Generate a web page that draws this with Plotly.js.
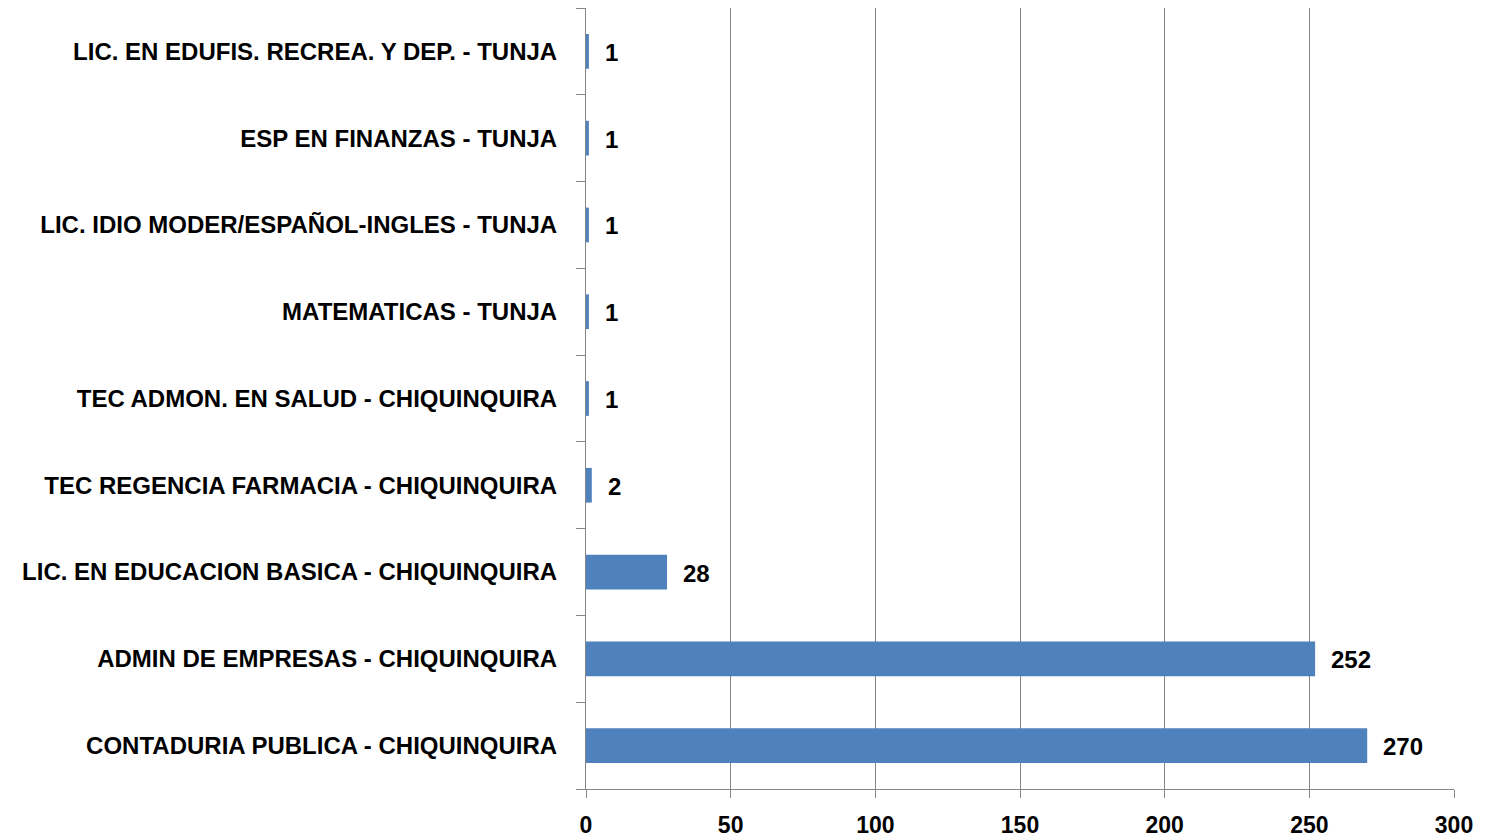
<!DOCTYPE html>
<html>
<head>
<meta charset="utf-8">
<script src="https://cdn.plot.ly/plotly-3.0.1.min.js"></script>
<style>html,body{margin:0;padding:0;background:#fff;}#chart{width:1487px;height:840px;}</style>
</head>
<body>
<div id="chart"></div>
<script>
const categories = [
  "CONTADURIA PUBLICA - CHIQUINQUIRA",
  "ADMIN DE EMPRESAS - CHIQUINQUIRA",
  "LIC. EN EDUCACION BASICA - CHIQUINQUIRA",
  "TEC REGENCIA FARMACIA - CHIQUINQUIRA",
  "TEC ADMON. EN SALUD - CHIQUINQUIRA",
  "MATEMATICAS - TUNJA",
  "LIC. IDIO MODER/ESPAÑOL-INGLES - TUNJA",
  "ESP EN FINANZAS - TUNJA",
  "LIC. EN EDUFIS. RECREA. Y DEP. - TUNJA"
];
const values = [270, 252, 28, 2, 1, 1, 1, 1, 1];
const xTicks = [0, 50, 100, 150, 200, 250, 300];

const fontFam = "'Liberation Sans', Arial, sans-serif";
const gray = "#868686";

const trace = {
  type: "bar",
  orientation: "h",
  x: values,
  y: categories,
  marker: {color: "#4f81bd"},
  width: 0.4,
  hoverinfo: "x+y"
};

const annotations = values.map((v, i) => ({
  x: v, y: categories[i], xref: "x", yref: "y",
  text: String(v), showarrow: false, xanchor: "left", yanchor: "middle",
  xshift: 14, yshift: -1,
  font: {family: fontFam, size: 24, color: "#000", weight: "bold"}
}));

const layout = {
  width: 1487, height: 840,
  margin: {l: 586, r: 33, t: 8, b: 51, pad: 0},
  paper_bgcolor: "#fff", plot_bgcolor: "#fff",
  showlegend: false,
  bargap: 0.6,
  xaxis: {
    range: [0, 300],
    tickvals: xTicks,
    ticktext: xTicks.map(String),
    showgrid: true, gridcolor: gray, gridwidth: 1,
    zeroline: false,
    showline: true, linecolor: gray, linewidth: 1,
    ticks: "outside", ticklen: 8, tickcolor: gray,
    ticklabelstandoff: 7,
    tickfont: {family: fontFam, size: 23, color: "#000", weight: "bold"},
    fixedrange: true
  },
  yaxis: {
    type: "category",
    categoryorder: "array", categoryarray: categories,
    showgrid: false, zeroline: false,
    showline: true, linecolor: gray, linewidth: 1,
    ticks: "outside", ticklen: 9, tickcolor: gray,
    tickson: "boundaries",
    ticklabelstandoff: 23,
    tickfont: {family: fontFam, size: 24, color: "#000", weight: "bold"},
    fixedrange: true
  },
  annotations: annotations
};

Plotly.newPlot("chart", [trace], layout, {displayModeBar: false, staticPlot: true});
</script>
</body>
</html>
